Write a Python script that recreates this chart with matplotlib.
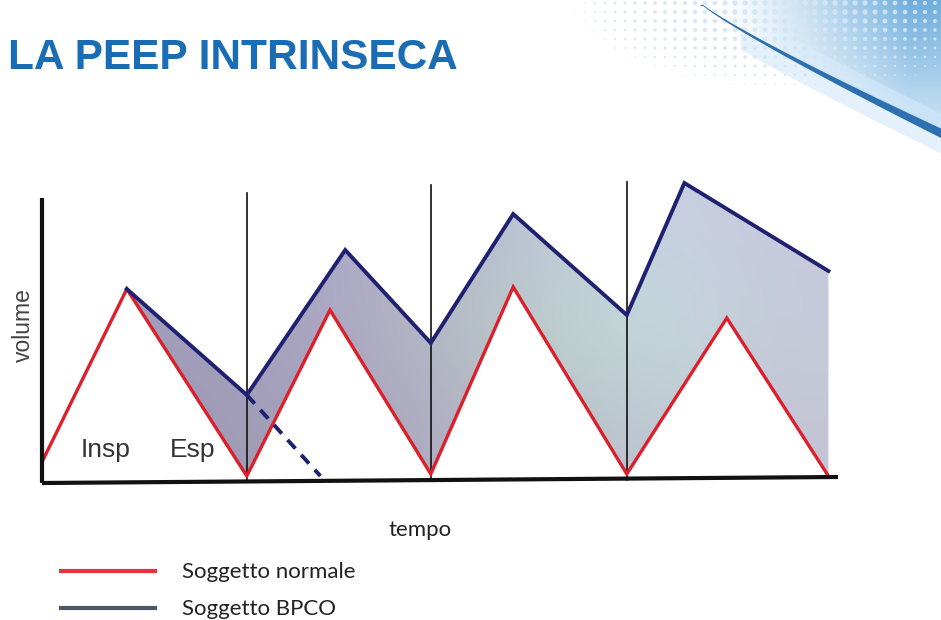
import numpy as np
import matplotlib
matplotlib.use('Agg')
import matplotlib.pyplot as plt
from matplotlib.colors import to_rgb
from matplotlib.path import Path

# ---------------- data ----------------
title = "LA PEEP INTRINSECA"
normal_t = [0.0, 1.06, 2.56, 3.60, 4.86, 5.89, 7.31, 8.56, 9.83]
normal_v = [0.21, 1.94, 0.07, 1.73, 0.09, 1.96, 0.09, 1.65, 0.07]
bpco_t = [1.06, 2.56, 3.79, 4.86, 5.89, 7.31, 8.03, 9.83]
bpco_v = [1.94, 0.88, 2.33, 1.40, 2.69, 1.68, 3.00, 2.12]
dashed_t = [2.56, 3.48]
dashed_v = [0.88, 0.07]
breath_marks_t = [2.56, 4.86, 7.31]
breath_marks_top = [2.90, 2.98, 3.01]
phase_labels = ["Insp", "Esp"]
phase_label_t = [0.79, 1.88]
phase_label_v = [0.33, 0.33]
axis_label_x = "tempo"
axis_label_y = "volume"
legend_labels = ["Soggetto normale", "Soggetto BPCO"]
axis_top_v = 2.85
axis_end_t = 9.95
axis_end_v = 0.06

RED = '#dc1f2a'
NAVY = '#1f2070'
NARROW = ['Liberation Sans Narrow', 'DejaVu Sans Condensed', 'Liberation Sans', 'DejaVu Sans']
CAL = ['Lato', 'DejaVu Sans']

fig = plt.figure(figsize=(9.41, 6.2), dpi=100)

# decoration / text layer in pixel coordinates
axd = fig.add_axes([0, 0, 1, 1], zorder=0)
axd.set_xlim(0, 941)
axd.set_ylim(620, 0)
axd.axis('off')

# swoosh: blue area above the dark streak
xs = np.linspace(690, 941, 300)
u = (xs - 703) / 238.0
streak = 5 + 128 * np.clip(u, 0, None) ** 0.9
H, W = 150, 260
yy, xx = np.mgrid[0:H, 0:W]
xpix = 681 + xx
alpha = np.clip((xpix - 720) / 190.0, 0, 1) ** 1.2 * 0.9
alpha *= np.clip(1 - yy / 190.0, 0.45, 1)
rgba = np.zeros((H, W, 4))
rgba[..., :3] = to_rgb('#5ea4da')
rgba[..., 3] = alpha
imd = axd.imshow(rgba, extent=[681, 941, 150, 0], aspect='auto', zorder=2, interpolation='bilinear')
verts = [(690, -2)] + list(zip(xs, streak)) + [(945, 140), (945, -2)]
imd.set_clip_path(Path(verts), axd.transData)
# lighter band just above the streak
axd.fill_between(xs, streak - 20, streak - 5, where=xs > 770, color='#dcefff', alpha=0.45, lw=0, zorder=3)
# pale band below the streak
axd.fill_between(xs, streak + 2, streak + 20, where=xs > 740, color='#cfe5f7', alpha=0.55, lw=0, zorder=2)

# halftone dots
gx, gy = np.meshgrid(np.arange(565, 941, 10), np.arange(3, 100, 9))
dx = gx.ravel().astype(float); dy = gy.ravel().astype(float)
inten = np.clip(1 - np.hypot((dx - 800) / 230.0, (dy - 5) / 85.0), 0, 1)
axd.scatter(dx, dy, s=20 * inten, color='#d4e6f4', alpha=0.9, linewidths=0, zorder=3)

# dark streak as a tapered band
wid = 0.5 + 4.2 * np.clip((xs - 700) / 241.0, 0, 1)
axd.fill_between(xs, streak - wid, streak + wid, where=xs > 700, color='#2c70b0',
                 lw=0, zorder=4)

# title
axd.text(8, 58, title, fontsize=30.5, fontweight='bold', color='#1a6cb4',
         family=['Liberation Sans', 'DejaVu Sans'], va='center', ha='left', zorder=5)

# legend
axd.plot([59, 157], [571, 571], color='#e5323b', lw=3.0, solid_capstyle='butt')
axd.plot([59, 157], [608, 608], color='#4c5a6c', lw=3.0, solid_capstyle='butt')
axd.text(182, 572, legend_labels[0], fontsize=16, color='#222222',
         family=CAL, va='center', ha='left')
axd.text(182, 609, legend_labels[1], fontsize=16, color='#222222',
         family=CAL, va='center', ha='left')
axd.text(420, 530, axis_label_x, fontsize=16, color='#222222',
         family=CAL, va='center', ha='center')

# ---------------- chart ----------------
ax = fig.add_axes([0, 0, 1, 1], zorder=1)
ax.patch.set_visible(False)
ax.axis('off')

grid_t = np.union1d(normal_t[1:], bpco_t)
rv = np.interp(grid_t, normal_t, normal_v)
bv = np.interp(grid_t, bpco_t, bpco_v)
poly = ax.fill_between(grid_t, rv, bv, facecolor='none', edgecolor='none')

cols = [
    ['#9e9ab4', '#a39fb8', '#aeabc2', '#b6b8c8', '#c0c8d2', '#c4c4d4'],
    ['#a19dba', '#a8a3c2', '#b4b6c4', '#bcd2c4', '#c2dede', '#c6cad8'],
    ['#a4a0be', '#aca7c6', '#b4b0cc', '#bcc6d6', '#c8d2e2', '#c8c8de'],
]
arr = np.array([[to_rgb(c) for c in row] for row in cols])
im = ax.imshow(arr, extent=[1.06, 9.83, 0.0, 3.0], origin='lower', aspect='auto',
               interpolation='bicubic', zorder=1)
im.set_clip_path(poly.get_paths()[0], ax.transData)

# vertical breath marks
for t, top in zip(breath_marks_t, breath_marks_top):
    ax.plot([t, t], [0.03, top], color='#111111', lw=1.2, zorder=2)

# axes lines
ax.plot([0, 0], [0, axis_top_v], color='#111111', lw=3.0, solid_capstyle='butt', zorder=4)
ax.plot([0, axis_end_t], [0, axis_end_v], color='#111111', lw=3.0, solid_capstyle='butt', zorder=4)

ax.plot(normal_t, normal_v, color=RED, lw=2.4, zorder=3, solid_joinstyle='miter')
ax.plot(bpco_t, bpco_v, color=NAVY, lw=2.8, zorder=3, solid_joinstyle='miter')
ax.plot(dashed_t, dashed_v, color=NAVY, lw=2.8, ls=(0, (3, 2.2)), zorder=3)

for lab, t, v in zip(phase_labels, phase_label_t, phase_label_v):
    ax.text(t, v, lab, fontsize=19, color='#333333', ha='center', va='center',
            family=NARROW, zorder=5)

ax.text(-0.23, 1.58, axis_label_y, fontsize=16.5, color='#444444', rotation=90,
        ha='center', va='center', family=['Liberation Sans', 'DejaVu Sans'], zorder=5)

ax.set_xlim(-0.525, 11.2375)
ax.set_ylim(-1.37, 4.83)

fig.savefig('out.png', dpi=100)
